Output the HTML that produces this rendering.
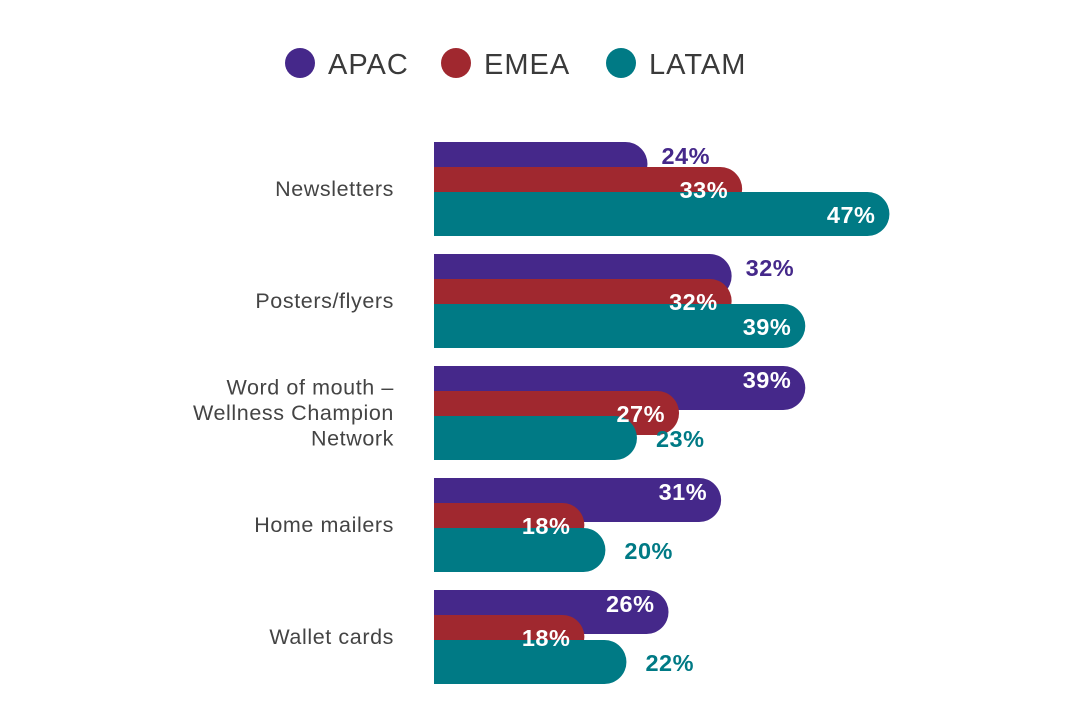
<!DOCTYPE html>
<html><head><meta charset="utf-8"><style>
body{margin:0;background:#fff;}
svg{display:block;font-family:"Liberation Sans",sans-serif;}
</style></head><body>
<svg id="chart" width="1080" height="720" viewBox="0 0 1080 720"></svg>
<script>
const categories=[["Newsletters"],["Posters/flyers"],["Word of mouth –","Wellness Champion","Network"],["Home mailers"],["Wallet cards"]];
const seriesNames=["APAC","EMEA","LATAM"];
const apac=[24,32,39,31,26];
const emea=[33,32,27,18,18];
const latam=[47,39,23,20,22];
const apacLabelInside=[false,false,true,true,true];
const emeaLabelInside=[true,true,true,true,true];
const latamLabelInside=[true,true,false,false,false];
const colors=["#45288a","#a0282f","#007a85"];
const series=[apac,emea,latam];
const inside=[apacLabelInside,emeaLabelInside,latamLabelInside];
const NS="http://www.w3.org/2000/svg";
const svg=document.getElementById('chart');
const x0=434;
function xs(v){return 395+10.52*v;}
function ys(i){return 142+112*i;}
function mk(t,a,p){const e=document.createElementNS(NS,t);for(const k in a)e.setAttribute(k,a[k]);(p||svg).appendChild(e);return e;}
const legX=[300,456,621];
seriesNames.forEach((n,s)=>{
  const g=mk('g',{});
  
  
  mk('circle',{cx:legX[s],cy:63,r:15,fill:colors[s]},g);
  const t=mk('text',{x:legX[s]+28,y:74,'font-size':29,fill:'#3a3a3a','letter-spacing':1},g);
  t.textContent=n;
});
categories.forEach((lines,i)=>{
  const y=ys(i);
  const cy=y+47;
  const t=mk('text',{x:394,'font-size':21.5,fill:'#444','text-anchor':'end','letter-spacing':0.6});
  
  
  lines.forEach((l,j)=>{const ts=mk('tspan',{x:394,y:cy+7+(j-(lines.length-1)/2)*25.5},t);ts.textContent=l;});
  series.forEach((arr,s)=>{
    const v=arr[i];const end=xs(v);const top=y+25*s;const h=44;const r=22;
    const p=mk('path',{d:`M${x0},${top}H${end-r}A${r},${r} 0 0 1 ${end},${top+r}A${r},${r} 0 0 1 ${end-r},${top+h}H${x0}Z`,fill:colors[s]});
    
    
  });
  series.forEach((arr,s)=>{
    const v=arr[i];const end=xs(v);const top=y+25*s;
    const ly=s===0?top+22:top+31;
    const ins=inside[s][i];
    const lab=mk('text',{x:ins?end-14:end+(s===2?19:14),y:ly,'font-size':23.5,'font-weight':'bold',fill:ins?'#fff':colors[s],'text-anchor':ins?'end':'start','letter-spacing':0.5});
    
    
    lab.textContent=v+'%';
  });
});
</script>
</body></html>
